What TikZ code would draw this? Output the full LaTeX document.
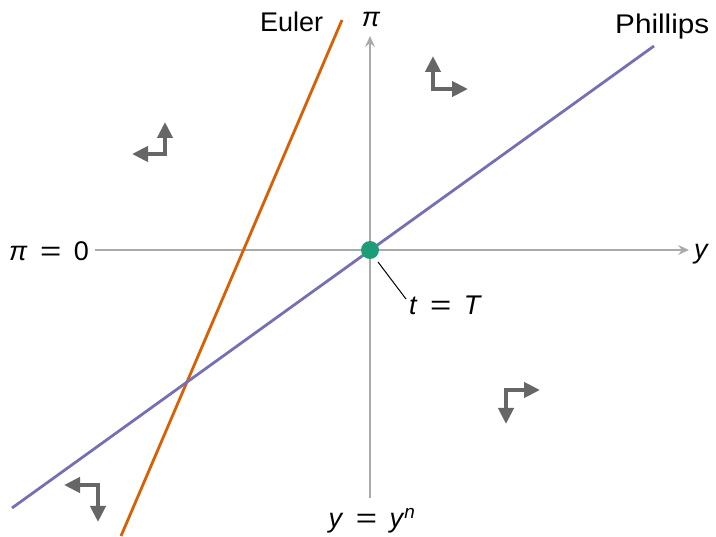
\documentclass[tikz,border=0pt]{standalone}
\usepackage{fontspec}
\usepackage{graphicx}
\setmainfont{Liberation Sans}
\usetikzlibrary{arrows.meta}
\definecolor{eulerc}{HTML}{D95F02}
\definecolor{phillc}{HTML}{7570B3}
\definecolor{dotc}{HTML}{1B9E77}
\definecolor{axc}{HTML}{AAAAAA}
\definecolor{flowc}{HTML}{666666}
\newcommand{\myeq}{\hspace{0.46em}\scalebox{1.35}[1.0]{=}\hspace{0.46em}}
\tikzset{
  axis/.style={draw=axc, line width=1.8pt, -{Stealth[length=11pt,width=10pt,inset=4pt]}},
  curve/.style={line width=2.8pt},
  flow/.style={draw=flowc, line width=4pt, {Triangle[length=16pt,width=15pt]}-{Triangle[length=16pt,width=15pt]}},
  lbl/.style={font=\fontsize{27}{31}\selectfont, inner sep=0pt},
}
\begin{document}
\begin{tikzpicture}[x=1pt,y=-1pt]
\useasboundingbox (0,0) rectangle (716,537);
% axes
\coordinate (xl) at (95,250);
\coordinate (xr) at (689,250);
\coordinate (yb) at (370,498);
\coordinate (yt) at (370,36);
\draw[axis] (xl) -- (xr);
\draw[axis] (yb) -- (yt);
% curves
\coordinate (e1) at (121,536);
\coordinate (e2) at (342,20);
\coordinate (p1) at (12,508);
\coordinate (p2) at (654,46);
\draw[curve, eulerc] (e1) -- (e2);
\draw[curve, phillc] (p1) -- (p2);
% steady state
\node[circle, fill=dotc, minimum size=18pt, inner sep=0pt] (ss) at (370,250) {};
\node[lbl, anchor=base west] (tT) at (409,315) {\textit{t}\myeq\textit{T}};
\coordinate (lead) at (406,299);
\draw[line width=1pt] (378,262) -- (lead);
% labels
\node[lbl, anchor=base west] (eul) at (260,32) {Euler};
\node[lbl, anchor=base] (pi) at (371,27) {\textit{π}};
\node[lbl, anchor=base west] (phl) at (615,34) {\scalebox{1.1}[1.0]{Phillips}};
\node[lbl, anchor=base west] (ylab) at (694,259) {\textit{y}};
\node[lbl, anchor=base east] (pi0) at (89,261) {\textit{π}\myeq 0};
\node[lbl, anchor=base] (yn) at (372,528) {\textit{y}\myeq\textit{y}\textsuperscript{\textit{n}}};
% flow arrows
\coordinate (a1h) at (132,154); \coordinate (a1c) at (165,154); \coordinate (a1v) at (165,122);
\draw[flow] (a1h) -- (a1c) -- (a1v);
\coordinate (a2v) at (433,56); \coordinate (a2c) at (433,89); \coordinate (a2h) at (468,89);
\draw[flow] (a2v) -- (a2c) -- (a2h);
\coordinate (a3h) at (540,390); \coordinate (a3c) at (506,390); \coordinate (a3v) at (506,424);
\draw[flow] (a3h) -- (a3c) -- (a3v);
\coordinate (a4h) at (64,485); \coordinate (a4c) at (98,485); \coordinate (a4v) at (98,522);
\draw[flow] (a4h) -- (a4c) -- (a4v);
\end{tikzpicture}
\end{document}
